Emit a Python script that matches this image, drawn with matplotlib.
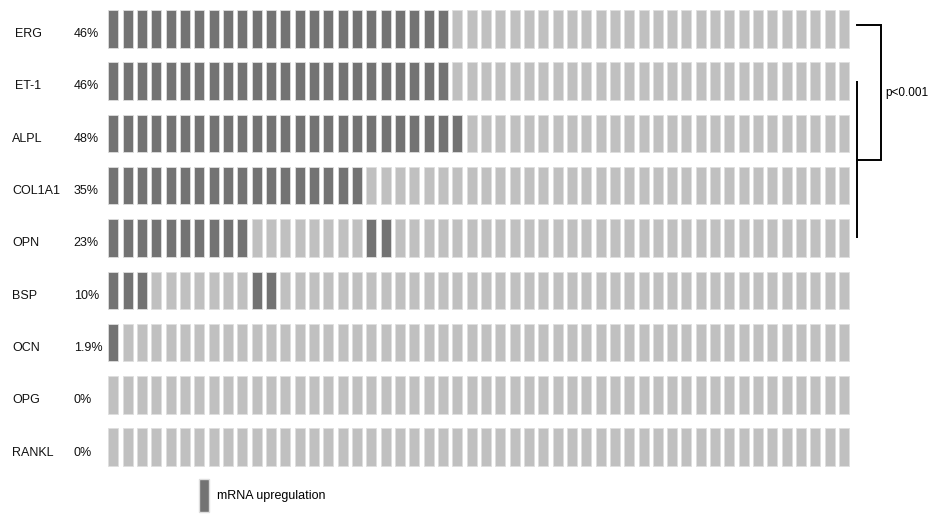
import matplotlib
matplotlib.use("Agg")
import matplotlib.pyplot as plt
from matplotlib.patches import Patch

plt.rcParams['font.family'] = ['Liberation Sans', 'DejaVu Sans']

# data
genes = ["ERG", "ET-1", "ALPL", "COL1A1", "OPN", "BSP", "OCN", "OPG", "RANKL"]
pct_labels = ["46%", "46%", "48%", "35%", "23%", "10%", "1.9%", "0%", "0%"]
n_samples = 52
upregulated = [
    list(range(24)),
    list(range(24)),
    list(range(25)),
    list(range(18)),
    list(range(10)) + [18, 19],
    [0, 1, 2, 10, 11],
    [0],
    [],
    [],
]

DARK = "#737373"
LIGHT = "#c0c0c0"

fig = plt.figure(figsize=(9.36, 5.15), dpi=100)
ax = fig.add_axes([0, 0, 1, 1])
ax.set_xlim(-7.557, 57.76)
ax.set_ylim(9.297, -0.55)
ax.axis("off")

cell_w = 0.698
cell_h = 0.717
cols = list(range(n_samples))
for row, gene in enumerate(genes):
    colors = [DARK if c in upregulated[row] else LIGHT for c in cols]
    ax.bar(cols, [cell_h] * n_samples, width=cell_w, bottom=row - cell_h / 2,
           align="edge", color=colors, edgecolor="#dedede", linewidth=0.6)
    # first two labels sit slightly further right in the original
    name_x = -6.5 if row < 2 else -6.7
    ax.text(name_x, row + 0.16, gene, ha="left", va="baseline", fontsize=9, color="#111111")
    ax.text(-2.42, row + 0.16, pct_labels[row], ha="left", va="baseline", fontsize=9,
            color="#111111")

# significance bracket
ax.plot([52.25, 52.25], [1, 4], color="black", lw=1.4, solid_capstyle="butt")
ax.plot([52.25, 53.9, 53.9, 52.25], [-0.07, -0.07, 2.5, 2.5], color="black", lw=1.4,
        solid_joinstyle="miter")
ax.text(54.25, 1.28, "p<0.001", ha="left", va="baseline", fontsize=8.5)

# legend
ax.legend(handles=[Patch(facecolor=DARK, edgecolor="#dedede", label="mRNA upregulation")],
          loc="center left", bbox_to_anchor=(0.2126, 0.037), frameon=False,
          handlelength=0.8, handleheight=3.68, handletextpad=0.64, fontsize=9,
          borderpad=0, borderaxespad=0)

fig.savefig("out.png", dpi=100)
